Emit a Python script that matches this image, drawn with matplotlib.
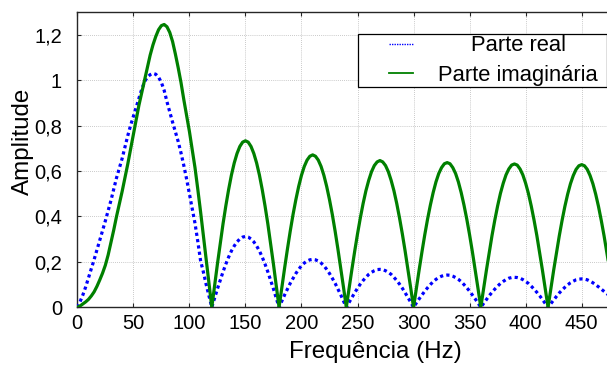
import matplotlib
matplotlib.use("Agg")
import matplotlib.pyplot as plt
import numpy as np
from matplotlib.legend_handler import HandlerLine2D

plt.rcParams['font.family'] = ['Liberation Sans', 'DejaVu Sans']

# Frequency samples (Hz), every 2.5 Hz
freq_hz = np.arange(0, 480, 2.5)

# Real part (blue dotted)
real_part = [
    # 0 - 120 Hz
    0.0, 0.025, 0.055, 0.09, 0.13, 0.17, 0.21, 0.252, 0.295, 0.337, 0.38, 0.425,
    0.47, 0.52, 0.57, 0.612, 0.655, 0.705, 0.755, 0.80, 0.84, 0.88, 0.92, 0.96,
    0.993, 1.013, 1.024, 1.03, 1.026, 1.013, 0.99, 0.955, 0.905, 0.86, 0.815, 0.773,
    0.73, 0.68, 0.625, 0.565, 0.50, 0.435, 0.37, 0.29, 0.205, 0.155, 0.10, 0.05, 0.0,
    # 122.5 - 180 Hz
    0.041, 0.081, 0.119, 0.156, 0.19, 0.221, 0.248, 0.27, 0.288, 0.301, 0.309, 0.312,
    0.309, 0.301, 0.288, 0.27, 0.248, 0.221, 0.19, 0.156, 0.119, 0.081, 0.041, 0.0,
    # 182.5 - 240 Hz
    0.028, 0.055, 0.081, 0.106, 0.128, 0.149, 0.167, 0.183, 0.195, 0.204, 0.209, 0.211,
    0.209, 0.204, 0.195, 0.183, 0.167, 0.149, 0.128, 0.106, 0.081, 0.055, 0.028, 0.0,
    # 242.5 - 300 Hz
    0.022, 0.043, 0.064, 0.084, 0.102, 0.118, 0.132, 0.145, 0.154, 0.161, 0.166, 0.167,
    0.166, 0.161, 0.154, 0.145, 0.132, 0.118, 0.102, 0.084, 0.064, 0.043, 0.022, 0.0,
    # 302.5 - 360 Hz
    0.019, 0.037, 0.054, 0.071, 0.086, 0.10, 0.113, 0.123, 0.131, 0.137, 0.141, 0.142,
    0.141, 0.137, 0.131, 0.123, 0.113, 0.10, 0.086, 0.071, 0.054, 0.037, 0.019, 0.0,
    # 362.5 - 420 Hz
    0.017, 0.034, 0.051, 0.066, 0.080, 0.093, 0.105, 0.114, 0.122, 0.128, 0.131, 0.132,
    0.131, 0.128, 0.122, 0.114, 0.105, 0.093, 0.080, 0.066, 0.051, 0.034, 0.017, 0.0,
    # 422.5 - 477.5 Hz
    0.016, 0.032, 0.048, 0.063, 0.076, 0.088, 0.099, 0.108, 0.115, 0.121, 0.124, 0.125,
    0.124, 0.121, 0.115, 0.108, 0.099, 0.09, 0.08, 0.07, 0.06, 0.05, 0.042,
]

# Imaginary part (green solid)
imag_part = [
    # 0 - 120 Hz
    0.0, 0.006, 0.015, 0.024, 0.035, 0.05, 0.068, 0.092, 0.12, 0.15, 0.185, 0.23,
    0.285, 0.34, 0.40, 0.455, 0.51, 0.57, 0.63, 0.695, 0.76, 0.826, 0.89, 0.945,
    1.0, 1.055, 1.11, 1.155, 1.192, 1.222, 1.240, 1.245, 1.235, 1.21, 1.17, 1.115,
    1.055, 0.99, 0.915, 0.845, 0.775, 0.695, 0.615, 0.52, 0.42, 0.315, 0.21, 0.105, 0.0,
    # 122.5 - 180 Hz
    0.096, 0.19, 0.28, 0.367, 0.446, 0.518, 0.582, 0.635, 0.677, 0.708, 0.727, 0.733,
    0.727, 0.708, 0.677, 0.635, 0.582, 0.518, 0.446, 0.367, 0.28, 0.19, 0.096, 0.0,
    # 182.5 - 240 Hz
    0.088, 0.174, 0.257, 0.336, 0.409, 0.474, 0.532, 0.581, 0.62, 0.648, 0.665, 0.671,
    0.665, 0.648, 0.62, 0.581, 0.532, 0.474, 0.409, 0.336, 0.257, 0.174, 0.088, 0.0,
    # 242.5 - 300 Hz
    0.084, 0.167, 0.247, 0.323, 0.393, 0.457, 0.513, 0.559, 0.597, 0.624, 0.640, 0.646,
    0.640, 0.624, 0.597, 0.559, 0.513, 0.457, 0.393, 0.323, 0.247, 0.167, 0.084, 0.0,
    # 302.5 - 360 Hz
    0.083, 0.165, 0.244, 0.319, 0.388, 0.45, 0.505, 0.552, 0.589, 0.615, 0.632, 0.637,
    0.632, 0.615, 0.589, 0.552, 0.505, 0.45, 0.388, 0.319, 0.244, 0.165, 0.083, 0.0,
    # 362.5 - 420 Hz
    0.082, 0.163, 0.241, 0.316, 0.384, 0.446, 0.501, 0.546, 0.583, 0.609, 0.626, 0.631,
    0.626, 0.609, 0.583, 0.546, 0.501, 0.446, 0.384, 0.316, 0.241, 0.163, 0.082, 0.0,
    # 422.5 - 477.5 Hz
    0.082, 0.163, 0.240, 0.314, 0.382, 0.444, 0.498, 0.544, 0.580, 0.607, 0.623, 0.628,
    0.623, 0.607, 0.580, 0.544, 0.498, 0.444, 0.382, 0.314, 0.240, 0.163, 0.082,
]

x_ticks = [0, 50, 100, 150, 200, 250, 300, 350, 400, 450]
y_ticks = [0, 0.2, 0.4, 0.6, 0.8, 1.0, 1.2]
y_tick_labels = ['0', '0,2', '0,4', '0,6', '0,8', '1', '1,2']
series_labels = ['Parte real', 'Parte imaginária']
x_label = 'Frequência (Hz)'
y_label = 'Amplitude'

W, H = 607, 372
fig = plt.figure(figsize=(W / 100, H / 100), dpi=100)
ax = fig.add_axes([77.3 / W, (H - 307.3) / H, 538.0 / W, 295.3 / H])

ax.plot(freq_hz, real_part, color='#0000ff', linewidth=2.3,
        linestyle=(0, (1, 1)), label=series_labels[0], zorder=3)
ax.plot(freq_hz, imag_part, color='#008000', linewidth=2.3,
        solid_joinstyle='round', label=series_labels[1], zorder=4)

ax.set_xlim(0, 480)
ax.set_ylim(0, 1.3)
ax.set_xticks(x_ticks)
ax.set_xticklabels([str(v) for v in x_ticks])
ax.set_yticks(y_ticks)
ax.set_yticklabels(y_tick_labels)

ax.tick_params(axis='both', direction='in', length=3, width=0.8,
               top=True, right=True, labelsize=14.5, colors='#262626',
               labelcolor='black')
ax.tick_params(axis='x', pad=5)
ax.tick_params(axis='y', pad=11)
for s in ax.spines.values():
    s.set_color('#262626')
    s.set_linewidth(1.0)

ax.grid(True, color='#b8b8b8', linestyle=(0, (1, 1.5)), linewidth=0.6)
ax.set_axisbelow(True)

ax.set_xlabel(x_label, fontsize=17.4)
ax.set_ylabel(y_label, fontsize=17.4)
ax.xaxis.set_label_coords((375 - 77.3) / 538.0, (307.3 - 341.0) / 295.3)
ax.yaxis.set_label_coords((34 - 77.3) / 538.0, (307.3 - 141.5) / 295.3)

# Legend (MATLAB-like box at top right)
fs_px = 22.0
fs_pt = fs_px * 72 / 100
bx0, bx1 = 358.3 / W, 606.7 / W
by1 = (H - 34.0) / H
leg = ax.legend(
    loc='upper left', mode='expand',
    bbox_to_anchor=(bx0, by1 - 0.15, bx1 - bx0, 0.15),
    bbox_transform=fig.transFigure,
    borderaxespad=0, borderpad=0.06, labelspacing=0.385,
    handlelength=53.4 / fs_px, handletextpad=25.3 / fs_px,
    fontsize=fs_pt, fancybox=False, framealpha=1, edgecolor='black',
    handler_map={ln: HandlerLine2D(xpad=29.7 / fs_px) for ln in ax.get_lines()},
)
leg.get_frame().set_linewidth(0.9)
lh = leg.get_lines()
lh[0].set_linewidth(1.0)
lh[0].set_linestyle((0, (1, 0.8)))
lh[1].set_linewidth(1.3)

fig.canvas.draw()
r = fig.canvas.get_renderer()
texts = leg.get_texts()
w0 = texts[0].get_window_extent(r).width
w1 = texts[1].get_window_extent(r).width
texts[0].set_x((w1 - w0) / 2)

fig.savefig('out.png', dpi=100)
